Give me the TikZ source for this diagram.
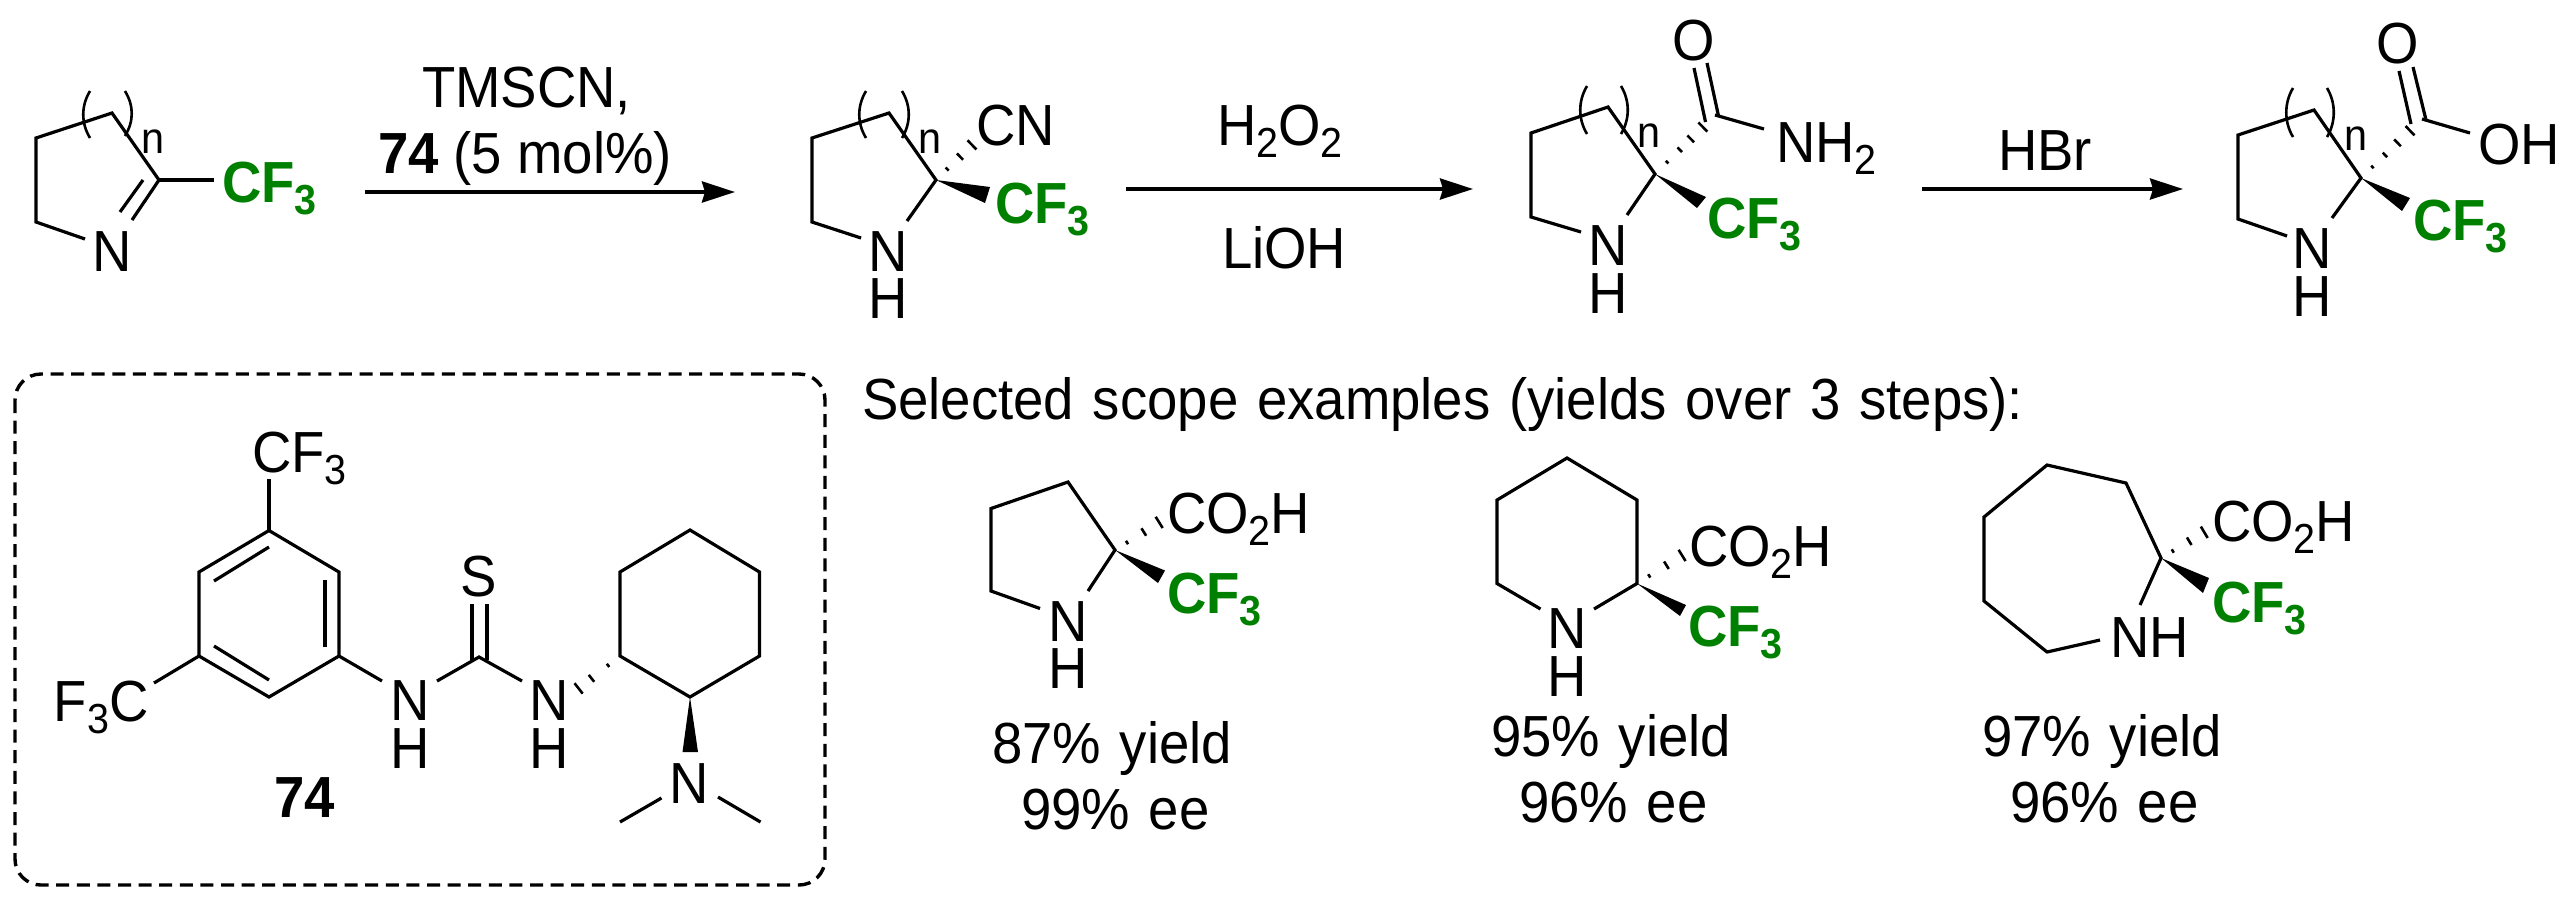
\documentclass[tikz,border=0pt]{standalone}
\usepackage{fontspec}
\setmainfont[FakeStretch=0.94]{Liberation Sans}
\usetikzlibrary{calc,arrows.meta}
\definecolor{cfgreen}{RGB}{0,128,0}
\newcommand{\chs}[1]{\raisebox{-6pt}{\fontsize{21}{21}\selectfont #1}}
\newcommand{\CFt}{\textbf{CF\chs{3}}}
\newcommand{\widesp}{\spaceskip 9.4pt\relax}
\tikzset{
  bond/.style={line width=1.6pt,line join=miter,line cap=butt},
  hb/.style={line width=1.3pt},
  paren/.style={line width=1.3pt},
  rxn/.style={line width=1.9pt,-{Stealth[length=16.5pt,width=10.5pt,inset=1.5pt]}},
  lab/.style={inner sep=0pt,outer sep=0pt,font=\fontsize{29}{34}\selectfont},
  lw/.style={lab,anchor=base west},
  lc/.style={lab,anchor=base},
  wide/.style={lw,font=\fontsize{29}{34}\selectfont\widesp},
  ring index/.style={lw,font=\fontsize{22}{26}\selectfont},
  green/.style={lw,text=cfgreen},
  boxd/.style={line width=1.7pt,rounded corners=13pt,dash pattern=on 6.5pt off 3.8pt}
}
% hashed bond: from, to, list of t/halfwidth
\newcommand{\hashb}[3]{%
  \foreach \t/\w in {#3}{%
    \draw[hb] ($($(#1)!\t!(#2)$)!\w pt!90:(#2)$) -- ($($(#1)!\t!(#2)$)!\w pt!-90:(#2)$);
  }}
\newcommand{\lp}[3]{\draw[paren] (#1,#2) .. controls (#1-9,#2+15) and (#1-9,#3-15) .. (#1,#3);}
\newcommand{\rp}[3]{\draw[paren] (#1,#2) .. controls (#1+9,#2+15) and (#1+9,#3-15) .. (#1,#3);}
\begin{document}
\begin{tikzpicture}[x=0.5pt,y=-0.5pt]
\useasboundingbox (0,0) rectangle (2568,896);
% ---------- imine
\coordinate (a1) at (85,239); \coordinate (a2) at (36,222); \coordinate (a3) at (36,138);
\coordinate (a4) at (112,113); \coordinate (a5) at (159,180); \coordinate (a6) at (132,220);
\coordinate (a7) at (143,180); \coordinate (a8) at (120,212); \coordinate (a9) at (214,180);
\draw[bond] (a1)--(a2)--(a3)--(a4)--(a5)--(a6);
\draw[bond] (a7)--(a8); \draw[bond] (a5)--(a9);
\lp{90}{91}{138}\rp{125}{91}{136}
\node[ring index] (an) at (141,153) {n};
\node[lc] (aN) at (112,271) {N};
\node[green] (aCF) at (222,202) {\CFt};
% arrow 1
\node[lw] (t1) at (422,107) {TMSCN,};
\node[lw] (t2) at (378,173) {\textbf{74} (5 mol\%)};
\coordinate (r1a) at (365,192); \coordinate (r1b) at (735,192);
\draw[rxn] (r1a)--(r1b);
% ---------- nitrile
\coordinate (b1) at (861,238); \coordinate (b2) at (812,222); \coordinate (b3) at (812,138);
\coordinate (b4) at (889,113); \coordinate (b5) at (936,180); \coordinate (b6) at (907,221);
\coordinate (bw1) at (990,187); \coordinate (bw2) at (985,203); \coordinate (bh) at (976,141);
\draw[bond] (b1)--(b2)--(b3)--(b4)--(b5)--(b6);
\fill (b5)--(bw1)--(bw2)--cycle;
\hashb{b5}{bh}{0.28/1.1,0.6/2.2,0.9/3.2}
\lp{866}{91}{138}\rp{902}{91}{138}
\node[ring index] (bn) at (918,153) {n};
\node[lc] (bN) at (888,271) {N};
\node[lc] (bH) at (888,318) {H};
\node[green] (bCF) at (995,223) {\CFt};
\node[lw] (bCN) at (976,145) {CN};
% arrow 2
\node[lw] (t3) at (1217,145) {H\chs{2}O\chs{2}};
\node[lw] (t4) at (1222,268) {LiOH};
\coordinate (r2a) at (1126,189); \coordinate (r2b) at (1473,189);
\draw[rxn] (r2a)--(r2b);
% ---------- amide
\coordinate (c1) at (1581,232); \coordinate (c2) at (1531,217); \coordinate (c3) at (1531,133);
\coordinate (c4) at (1608,107); \coordinate (c5) at (1655,174); \coordinate (c6) at (1627,215);
\coordinate (cw1) at (1706,197); \coordinate (cw2) at (1697,208); \coordinate (ch) at (1710,120);
\coordinate (cc) at (1715,115); \coordinate (cn) at (1764,129);
\coordinate (co1a) at (1694,68); \coordinate (co1b) at (1705.5,122);
\coordinate (co2a) at (1707,63); \coordinate (co2b) at (1718.5,116);
\draw[bond] (c1)--(c2)--(c3)--(c4)--(c5)--(c6);
\fill (c5)--(cw1)--(cw2)--cycle;
\hashb{c5}{ch}{0.22/0.9,0.45/1.6,0.65/2.4,0.87/3.2}
\draw[bond] (cc)--(cn); \draw[bond] (co1a)--(co1b); \draw[bond] (co2a)--(co2b);
\lp{1587}{86}{134}\rp{1621}{86}{134}
\node[ring index] (cnl) at (1637,147) {n};
\node[lc] (cN) at (1608,265) {N};
\node[lc] (cH) at (1608,313) {H};
\node[green] (cCF) at (1707,238) {\CFt};
\node[lc] (cO) at (1694,60) {O};
\node[lw] (cNH) at (1776,162) {NH\chs{2}};
% arrow 3
\node[lw] (t5) at (1998,170) {HBr};
\coordinate (r3a) at (1922,189); \coordinate (r3b) at (2183,189);
\draw[rxn] (r3a)--(r3b);
% ---------- acid
\coordinate (d1) at (2287,236); \coordinate (d2) at (2238,219); \coordinate (d3) at (2238,135);
\coordinate (d4) at (2314,110); \coordinate (d5) at (2361,178); \coordinate (d6) at (2332,218);
\coordinate (dw1) at (2410,198); \coordinate (dw2) at (2402,211); \coordinate (dh) at (2418,123);
\coordinate (dc) at (2422,119); \coordinate (dn) at (2470,133);
\coordinate (do1a) at (2399,71); \coordinate (do1b) at (2411,124);
\coordinate (do2a) at (2413,67); \coordinate (do2b) at (2426,120);
\draw[bond] (d1)--(d2)--(d3)--(d4)--(d5)--(d6);
\fill (d5)--(dw1)--(dw2)--cycle;
\hashb{d5}{dh}{0.2/0.9,0.42/1.6,0.64/2.4,0.86/3.2}
\draw[bond] (dc)--(dn); \draw[bond] (do1a)--(do1b); \draw[bond] (do2a)--(do2b);
\lp{2293}{88}{137}\rp{2327}{88}{137}
\node[ring index] (dnl) at (2344,150) {n};
\node[lc] (dN) at (2312.5,268) {N};
\node[lc] (dH) at (2312.5,316) {H};
\node[green] (dCF) at (2413,240) {\CFt};
\node[lc] (dO) at (2398,63) {O};
\node[lw] (dOH) at (2478,164) {OH};
% ---------- catalyst box
\coordinate (bx1) at (15,374); \coordinate (bx2) at (825,885);
\draw[boxd] (bx1) rectangle (bx2);
\coordinate (e1) at (269,530.5); \coordinate (e2) at (339,572); \coordinate (e3) at (339,656);
\coordinate (e4) at (269,697); \coordinate (e5) at (199,656); \coordinate (e6) at (199,572);
\draw[bond] (e1)--(e2)--(e3)--(e4)--(e5)--(e6)--cycle;
\coordinate (ei1) at (269,547); \coordinate (ei2) at (214,581);
\coordinate (ei3) at (325,580); \coordinate (ei4) at (325,647);
\coordinate (ei5) at (214,646); \coordinate (ei6) at (269,680);
\draw[bond] (ei1)--(ei2); \draw[bond] (ei3)--(ei4); \draw[bond] (ei5)--(ei6);
\coordinate (et) at (269,479); \coordinate (el) at (154,683);
\draw[bond] (e1)--(et); \draw[bond] (e5)--(el);
\node[lw] (eCFa) at (252,472) {CF\chs{3}};
\node[lw] (eCFb) at (54,721) {F\chs{3}C};
\coordinate (en1) at (382,681); \coordinate (eth) at (479,657);
\coordinate (en2) at (437,681); \coordinate (en3) at (522,681);
\draw[bond] (e3)--(en1); \draw[bond] (en2)--(eth)--(en3);
\coordinate (es1a) at (472,604); \coordinate (es1b) at (472,660);
\coordinate (es2a) at (487,604); \coordinate (es2b) at (487,660);
\draw[bond] (es1a)--(es1b); \draw[bond] (es2a)--(es2b);
\node[lc] (eS) at (479,596) {S};
\node[lc] (eN1) at (410,720) {N}; \node[lc] (eH1) at (410,768) {H};
\node[lc] (eN2) at (549,720) {N}; \node[lc] (eH2) at (549,768) {H};
\coordinate (f1) at (690,530); \coordinate (f2) at (759.5,572); \coordinate (f3) at (759.5,656);
\coordinate (f4) at (690,697); \coordinate (f5) at (620,656); \coordinate (f6) at (620,572);
\draw[bond] (f1)--(f2)--(f3)--(f4)--(f5)--(f6)--cycle;
\coordinate (fh) at (574,692);
\hashb{f5}{fh}{0.26/1,0.62/2.2,0.9/3.3}
\coordinate (fwa) at (682.5,752); \coordinate (fwb) at (698,752);
\fill (f4)--(fwa)--(fwb)--cycle;
\node[lc] (fN) at (689,803) {N};
\coordinate (fm1a) at (661.5,798); \coordinate (fm1b) at (620,822);
\coordinate (fm2a) at (718,797); \coordinate (fm2b) at (760.5,822);
\draw[bond] (fm1a)--(fm1b); \draw[bond] (fm2a)--(fm2b);
\node[lw] (e74) at (274,817) {\textbf{74}};
% ---------- scope title
\node[wide] (title) at (862,419) {Selected scope examples (yields over 3 steps):};
% ---------- pyrrolidine
\coordinate (g1) at (1040,608.5); \coordinate (g2) at (991,591); \coordinate (g3) at (991,508.5);
\coordinate (g4) at (1068,482); \coordinate (g5) at (1115,550); \coordinate (g6) at (1088,591);
\coordinate (gw1) at (1165,570.5); \coordinate (gw2) at (1158,583); \coordinate (gh) at (1163,520);
\draw[bond] (g1)--(g2)--(g3)--(g4)--(g5)--(g6);
\fill (g5)--(gw1)--(gw2)--cycle;
\hashb{g5}{gh}{0.25/1,0.6/2.2,0.92/3.3}
\node[lc] (gN) at (1068,641) {N}; \node[lc] (gH) at (1068,688) {H};
\node[green] (gCF) at (1167,613) {\CFt};
\node[lw] (gCO) at (1167,533) {CO\chs{2}H};
\node[wide] (g74) at (992,763) {87\% yield};
\node[wide] (gee) at (1021,829) {99\% ee};
% ---------- piperidine
\coordinate (h1) at (1540.5,609); \coordinate (h2) at (1497,583.5); \coordinate (h3) at (1497,500);
\coordinate (h4) at (1567,458); \coordinate (h5) at (1637,500); \coordinate (h6) at (1637,583.5);
\coordinate (h7) at (1594,609);
\coordinate (hw1) at (1686,605); \coordinate (hw2) at (1680,616); \coordinate (hh) at (1686,553);
\draw[bond] (h1)--(h2)--(h3)--(h4)--(h5)--(h6)--(h7);
\fill (h6)--(hw1)--(hw2)--cycle;
\hashb{h6}{hh}{0.25/1,0.6/2.2,0.92/3.3}
\node[lc] (hN) at (1567,648) {N}; \node[lc] (hH) at (1567,696) {H};
\node[green] (hCF) at (1688,646) {\CFt};
\node[lw] (hCO) at (1689,566) {CO\chs{2}H};
\node[wide] (h95) at (1491,756) {95\% yield};
\node[wide] (hee) at (1519,822) {96\% ee};
% ---------- azepane
\coordinate (k1) at (2100,640); \coordinate (k2) at (2047,652); \coordinate (k3) at (1984,601);
\coordinate (k4) at (1984,517); \coordinate (k5) at (2047,465); \coordinate (k6) at (2126,483);
\coordinate (k7) at (2161,558); \coordinate (k8) at (2140,605);
\coordinate (kw1) at (2209,578); \coordinate (kw2) at (2203,593); \coordinate (kh) at (2208,530);
\draw[bond] (k1)--(k2)--(k3)--(k4)--(k5)--(k6)--(k7)--(k8);
\fill (k7)--(kw1)--(kw2)--cycle;
\hashb{k7}{kh}{0.25/1,0.6/2.2,0.92/3.3}
\node[lw] (kNH) at (2110,657) {NH};
\node[green] (kCF) at (2212,622) {\CFt};
\node[lw] (kCO) at (2212,541) {CO\chs{2}H};
\node[wide] (k97) at (1982,756) {97\% yield};
\node[wide] (kee) at (2010,822) {96\% ee};
\end{tikzpicture}
\end{document}
